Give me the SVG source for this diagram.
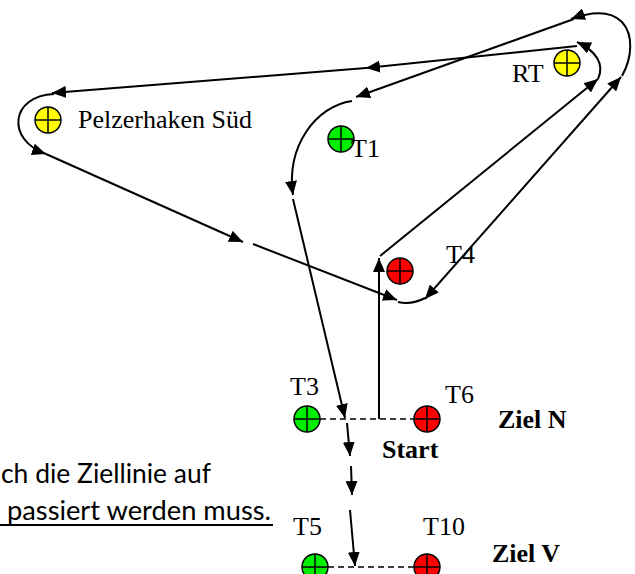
<svg xmlns="http://www.w3.org/2000/svg" width="635" height="574" viewBox="0 0 635 574">
<style>
.ln{fill:none;stroke:#000;stroke-width:2}
.ar{marker-end:url(#ah)}
.dash{fill:none;stroke:#000;stroke-width:1.5;stroke-dasharray:6 4}
.mk circle{stroke:#000;stroke-width:1.5}
.mk path{stroke:#000;stroke-width:1.5;fill:none}
.y{fill:#ffff00}.g{fill:#00ee00}.r{fill:#ff0000}
.lbl{font-family:"Liberation Serif","Times New Roman",serif;font-size:26px;fill:#000}
.b{font-weight:bold}
.note{font-family:Lato,"Liberation Sans",sans-serif;font-size:26px;fill:#000}
</style>
<defs>
<marker id="ah" markerUnits="userSpaceOnUse" markerWidth="16" markerHeight="12" refX="14" refY="6" orient="auto-start-reverse">
<path d="M0,0 L14,6 L0,12 z" fill="#000"/>
</marker>
</defs>
<g id="connectors">
<path class="ln ar" d="M379,419 L379,258"/>
<path class="ln ar" d="M380,256 L598,79"/>
<path class="ln ar" d="M598,79 C605,64 596,51 577,42"/>
<path class="ln ar" d="M577,46 L366,68"/>
<path class="ln ar" d="M366,68 L52,93"/>
<path class="ln ar" d="M54,94 C10,96 6,140 46,154"/>
<path class="ln ar" d="M46,154 L243,242"/>
<path class="ln ar" d="M253,244 L397,300"/>
<path class="ln" d="M398,302 Q412,305 425,298"/>
<path class="ln" d="M425,299 L621,77" style="marker-start:url(#ah);marker-end:url(#ah)"/>
<path class="ln ar" d="M622,76 C632,58 634,35 622,22 C610,10 590,12 571,19"/>
<path class="ln ar" d="M574,19 L356,97"/>
<path class="ln ar" d="M352,101 C316,106 286,146 293,195"/>
<path class="ln ar" d="M293,199 L345,418"/>
<path class="ln ar" d="M347,423 L350,456"/>
<path class="ln ar" d="M351,466 L352,495"/>
<path class="ln ar" d="M350,510 L355,566"/>
<path class="dash" d="M320,419 L414,419"/>
<path class="dash" d="M328,567 L414,567"/>
</g>
<g id="pelzerhaken" class="mk">
<circle class="y" cx="48" cy="120" r="13"/><path d="M35,120 H61 M48,107 V133"/>
<text class="lbl" x="78" y="128">Pelzerhaken Süd</text>
</g>
<g id="rt" class="mk">
<circle class="y" cx="567" cy="63" r="13"/><path d="M554,63 H580 M567,50 V76"/>
<text class="lbl" x="512" y="82">RT</text>
</g>
<g id="t1" class="mk">
<circle class="g" cx="341" cy="139" r="13"/><path d="M328,139 H354 M341,126 V152"/>
<text class="lbl" x="351" y="157">T1</text>
</g>
<g id="t4" class="mk">
<circle class="r" cx="400" cy="271" r="13"/><path d="M387,271 H413 M400,258 V284"/>
<text class="lbl" x="446" y="263">T4</text>
</g>
<g id="t3" class="mk">
<circle class="g" cx="307" cy="419" r="13"/><path d="M294,419 H320 M307,406 V432"/>
<text class="lbl" x="290" y="395">T3</text>
</g>
<g id="t6" class="mk">
<circle class="r" cx="427" cy="419" r="13"/><path d="M414,419 H440 M427,406 V432"/>
<text class="lbl" x="445" y="403">T6</text>
</g>
<g id="ziel-n"><text class="lbl b" x="498" y="428">Ziel N</text></g>
<g id="start"><text class="lbl b" x="382" y="458">Start</text></g>
<g id="t5" class="mk">
<circle class="g" cx="315" cy="567" r="13"/><path d="M302,567 H328 M315,554 V580"/>
<text class="lbl" x="293" y="535">T5</text>
</g>
<g id="t10" class="mk">
<circle class="r" cx="427" cy="567" r="13"/><path d="M414,567 H440 M427,554 V580"/>
<text class="lbl" x="423" y="535">T10</text>
</g>
<g id="ziel-v"><text class="lbl b" x="492" y="562">Ziel V</text></g>
<g id="note">
<text class="note" x="1" y="483" textLength="210" lengthAdjust="spacingAndGlyphs">ch die Ziellinie auf</text>
<text class="note" x="7" y="520" textLength="264" lengthAdjust="spacingAndGlyphs">passiert werden muss.</text>
<line x1="0" y1="525" x2="273" y2="525" stroke="#000" stroke-width="2"/>
</g>
</svg>
